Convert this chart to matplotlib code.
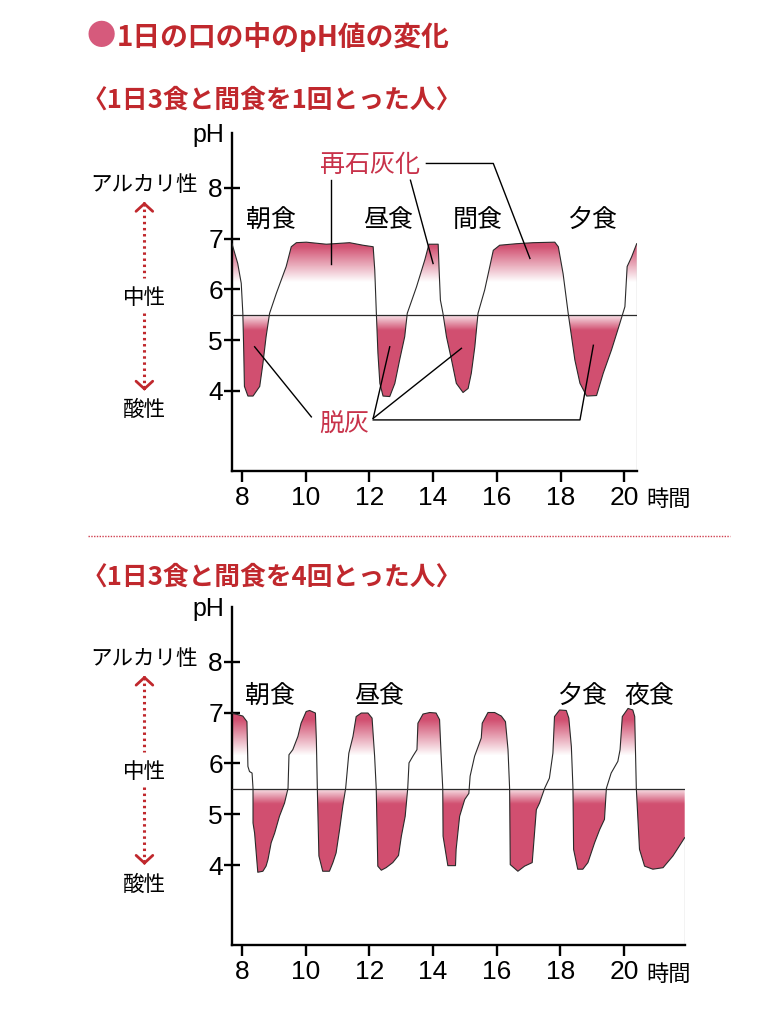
import numpy as np
import matplotlib
matplotlib.use('Agg')
import matplotlib.pyplot as plt
from matplotlib.patches import Polygon
from matplotlib.lines import Line2D

plt.rcParams['font.family'] = ['Noto Sans CJK JP', 'DejaVu Sans']

# pH curve, 3 meals + 1 snack (hours / pH)
top_hours = [7.69, 7.87, 7.98, 8.03, 8.06, 8.08, 8.19, 8.35, 8.56, 8.66,
             8.76, 8.87, 9.08, 9.39, 9.55, 9.71, 10.02, 10.65, 11.38, 11.80,
             12.12, 12.17, 12.22, 12.27, 12.33, 12.43, 12.64, 12.80, 12.95, 13.11,
             13.19, 13.48, 13.74, 13.87, 14.16, 14.19, 14.23, 14.31, 14.42, 14.58,
             14.73, 14.94, 15.10, 15.20, 15.31, 15.41, 15.62, 15.78, 15.89, 16.09,
             16.62, 17.14, 17.82, 17.93, 18.08, 18.24, 18.45, 18.61, 18.82, 19.13,
             19.34, 19.60, 19.86, 20.02, 20.09, 20.23, 20.39]
top_ph = [6.90, 6.51, 6.12, 5.53, 4.74, 4.09, 3.90, 3.90, 4.09, 4.54,
          5.07, 5.53, 5.92, 6.45, 6.84, 6.92, 6.93, 6.89, 6.92, 6.87,
          6.84, 6.38, 5.53, 4.74, 4.15, 3.90, 3.89, 4.15, 4.61, 5.07,
          5.53, 6.05, 6.58, 6.89, 6.89, 6.38, 5.79, 5.53, 5.07, 4.61,
          4.15, 3.97, 4.05, 4.35, 4.87, 5.53, 5.99, 6.45, 6.77, 6.87,
          6.90, 6.92, 6.93, 6.84, 6.31, 5.53, 4.61, 4.15, 3.90, 3.91,
          4.35, 4.81, 5.33, 5.66, 6.45, 6.64, 6.90]

# pH curve, 3 meals + 4 snacks
bot_hours = [7.69, 8.03, 8.16, 8.19, 8.24, 8.32, 8.35, 8.35, 8.40, 8.50,
             8.66, 8.76, 8.82, 8.92, 9.03, 9.18, 9.34, 9.45, 9.48, 9.60,
             9.76, 9.86, 10.02, 10.13, 10.31, 10.34, 10.37, 10.42, 10.54, 10.75,
             10.86, 10.96, 11.07, 11.17, 11.26, 11.36, 11.49, 11.59, 11.75, 11.96,
             12.09, 12.17, 12.22, 12.27, 12.38, 12.53, 12.74, 12.92, 13.01, 13.13,
             13.21, 13.25, 13.37, 13.50, 13.53, 13.69, 13.90, 14.10, 14.21, 14.26,
             14.31, 14.32, 14.47, 14.71, 14.73, 14.84, 15.00, 15.13, 15.17, 15.31,
             15.52, 15.55, 15.73, 15.94, 16.15, 16.28, 16.36, 16.41, 16.43, 16.67,
             16.88, 17.12, 17.25, 17.35, 17.51, 17.66, 17.77, 17.82, 17.98, 18.19,
             18.27, 18.35, 18.40, 18.42, 18.55, 18.71, 18.87, 19.08, 19.24, 19.39,
             19.45, 19.60, 19.81, 19.88, 19.95, 20.13, 20.28, 20.34, 20.39, 20.49,
             20.65, 20.91, 21.23, 21.54, 21.91]
bot_ph = [6.99, 6.93, 6.82, 5.94, 5.84, 5.81, 5.51, 4.83, 4.63, 3.86,
          3.88, 3.98, 4.11, 4.44, 4.63, 4.96, 5.22, 5.51, 6.17, 6.27,
          6.53, 6.79, 7.02, 7.04, 6.99, 6.46, 5.51, 4.18, 3.88, 3.88,
          4.05, 4.24, 4.70, 5.16, 5.51, 6.20, 6.53, 6.92, 6.99, 6.99,
          6.89, 6.14, 5.51, 3.98, 3.90, 3.95, 4.05, 4.19, 4.57, 4.96,
          5.51, 6.01, 6.14, 6.27, 6.79, 6.97, 7.00, 6.99, 6.86, 6.14,
          5.51, 4.57, 3.99, 3.99, 4.31, 4.96, 5.29, 5.41, 5.75, 6.14,
          6.50, 6.79, 7.00, 7.00, 6.93, 6.82, 6.27, 5.51, 4.01, 3.88,
          3.98, 4.05, 5.09, 5.22, 5.51, 5.71, 6.20, 6.92, 7.05, 7.04,
          6.89, 6.33, 5.51, 4.31, 3.92, 3.92, 4.05, 4.44, 4.70, 4.90,
          5.51, 5.81, 6.04, 6.27, 6.92, 7.08, 7.05, 6.92, 5.51, 4.31,
          3.98, 3.92, 3.95, 4.18, 4.54]

top_meals = ['朝食', '昼食', '間食', '夕食']
top_meal_x = [8.90, 12.58, 15.41, 18.99]
bot_meals = ['朝食', '昼食', '夕食', '夜食']
bot_meal_x = [8.87, 12.32, 18.69, 20.81]

y_ticks = [4, 5, 6, 7, 8]
x_ticks = [8, 10, 12, 14, 16, 18, 20]

NEUTRAL = 5.5
YLIM = (2.43, 9.08)
XMIN = 7.69
PINK = (0.82, 0.31, 0.44)
RED = '#c0282d'
ANN_RED = '#c8324a'
LINE = '#2a2a2a'
NUM_FONT = 'Liberation Sans'


def shade(ax, hours, ph, xmax):
    # gradient fill between curve and the pH 5.5 line
    verts = np.column_stack([np.r_[hours, hours[::-1]],
                             np.r_[ph, np.full(len(hours), NEUTRAL)]])
    clip = Polygon(verts, closed=True, facecolor='none', edgecolor='none')
    ax.add_patch(clip)
    yy = np.linspace(YLIM[0], YLIM[1], 800)
    alpha = np.where(yy >= NEUTRAL,
                     np.clip((yy - 6.15) / 0.7, 0, 1),
                     np.clip(0.15 + (NEUTRAL - yy) / 0.3 * 0.85, 0, 1))
    rgba = np.zeros((len(yy), 2, 4))
    rgba[..., :3] = PINK
    rgba[..., 3] = alpha[:, None]
    im = ax.imshow(rgba, extent=[XMIN, xmax, YLIM[0], YLIM[1]], origin='lower',
                   aspect='auto', zorder=1, interpolation='bilinear')
    im.set_clip_path(clip)
    ax.plot(hours, ph, color=LINE, lw=0.8, zorder=3)
    ax.plot([hours[-1], hours[-1]], [YLIM[0], ph[-1]], color=LINE, lw=0.8, zorder=3)


def setup(ax, xmax):
    ax.set_xlim(XMIN, xmax)
    ax.set_ylim(*YLIM)
    for s in ['top', 'right']:
        ax.spines[s].set_visible(False)
    for s in ['left', 'bottom']:
        ax.spines[s].set_linewidth(1.7)
    ax.set_yticks(y_ticks)
    ax.set_xticks(x_ticks)
    ax.tick_params(axis='y', direction='inout', length=11, width=1.7, labelsize=19, pad=1)
    ax.tick_params(axis='x', direction='out', length=8, width=1.7, labelsize=19, pad=3)
    for lab in ax.get_xticklabels() + ax.get_yticklabels():
        lab.set_family(NUM_FONT)
    ax.axhline(NEUTRAL, color=LINE, lw=0.9, zorder=4)
    ax.text(7.46, 9.04, 'pH', ha='right', va='center', fontsize=18,
            family=NUM_FONT, clip_on=False)
    ax.text(21.4, 1.86, '時間', ha='center', va='center', fontsize=16, clip_on=False)

    # acidity scale on the left
    x = 4.94
    ax.text(x, 8.05, 'アルカリ性', ha='center', va='center', fontsize=15.5, clip_on=False)
    ax.text(x, 5.84, '中性', ha='center', va='center', fontsize=15.5, clip_on=False)
    ax.text(x, 3.62, '酸性', ha='center', va='center', fontsize=15.5, clip_on=False)
    ax.plot([x, x], [7.70, 6.22], ls=(0, (0.8, 1.2)), lw=2.2, color=RED, clip_on=False)
    ax.plot([x, x], [5.53, 4.03], ls=(0, (0.8, 1.2)), lw=2.2, color=RED, clip_on=False)
    head = '->,head_length=0.55,head_width=0.6'
    ax.annotate('', xy=(x, 7.78), xytext=(x, 7.6), annotation_clip=False,
                arrowprops=dict(arrowstyle=head, color=RED, lw=2))
    ax.annotate('', xy=(x, 3.95), xytext=(x, 4.13), annotation_clip=False,
                arrowprops=dict(arrowstyle=head, color=RED, lw=2))


fig = plt.figure(figsize=(7.68, 10.24), dpi=100)

# titles
fig.text(87 / 768, 1 - 37 / 1024, '●', color='#d65a7c', fontsize=21,
         ha='left', va='center')
fig.text(117 / 768, 1 - 37 / 1024, '1日の口の中のpH値の変化', color=RED,
         fontsize=20, fontweight='bold', ha='left', va='center')
fig.text(82 / 768, 1 - 100 / 1024, '〈1日3食と間食を1回とった人〉', color=RED,
         fontsize=18.5, fontweight='bold', ha='left', va='center')
fig.text(82 / 768, 1 - 577 / 1024, '〈1日3食と間食を4回とった人〉', color=RED,
         fontsize=18.5, fontweight='bold', ha='left', va='center')
fig.add_artist(Line2D([88 / 768, 730 / 768], [1 - 536 / 1024, 1 - 536 / 1024],
                      ls=(0, (1, 1)), lw=1.0, color='#d04050'))

# top panel
ax1 = fig.add_axes([232 / 768, 1 - 470.7 / 1024, 404.7 / 768, 337.7 / 1024])
shade(ax1, top_hours, top_ph, 20.39)
setup(ax1, 20.39)
for name, mx in zip(top_meals, top_meal_x):
    ax1.text(mx, 7.36, name, ha='center', va='center', fontsize=18)

ax1.text(12.01, 8.45, '再石灰化', ha='center', va='center', fontsize=18,
         color=ANN_RED, clip_on=False)
ax1.text(11.22, 3.33, '脱灰', ha='center', va='center', fontsize=18,
         color=ANN_RED)
leader_kw = dict(color='black', lw=1.0, zorder=5)
ax1.plot([10.81, 10.81], [8.15, 6.51], **leader_kw)
ax1.plot([13.29, 14.00], [8.15, 6.51], **leader_kw)
ax1.plot([13.79, 15.89, 17.04], [8.48, 8.48, 6.61], **leader_kw)
ax1.plot([10.18, 8.40], [3.49, 4.87], **leader_kw)
ax1.plot([12.12, 12.64], [3.46, 4.87], **leader_kw)
ax1.plot([12.12, 14.89], [3.46, 4.84], **leader_kw)
ax1.plot([12.12, 18.61, 19.03], [3.43, 3.43, 4.90], **leader_kw)

# bottom panel
ax2 = fig.add_axes([232 / 768, 1 - 945 / 1024, 452.7 / 768, 338.3 / 1024])
shade(ax2, bot_hours, bot_ph, 21.91)
setup(ax2, 21.91)
for name, mx in zip(bot_meals, bot_meal_x):
    ax2.text(mx, 7.33, name, ha='center', va='center', fontsize=18)

fig.savefig('out.png', dpi=100)
